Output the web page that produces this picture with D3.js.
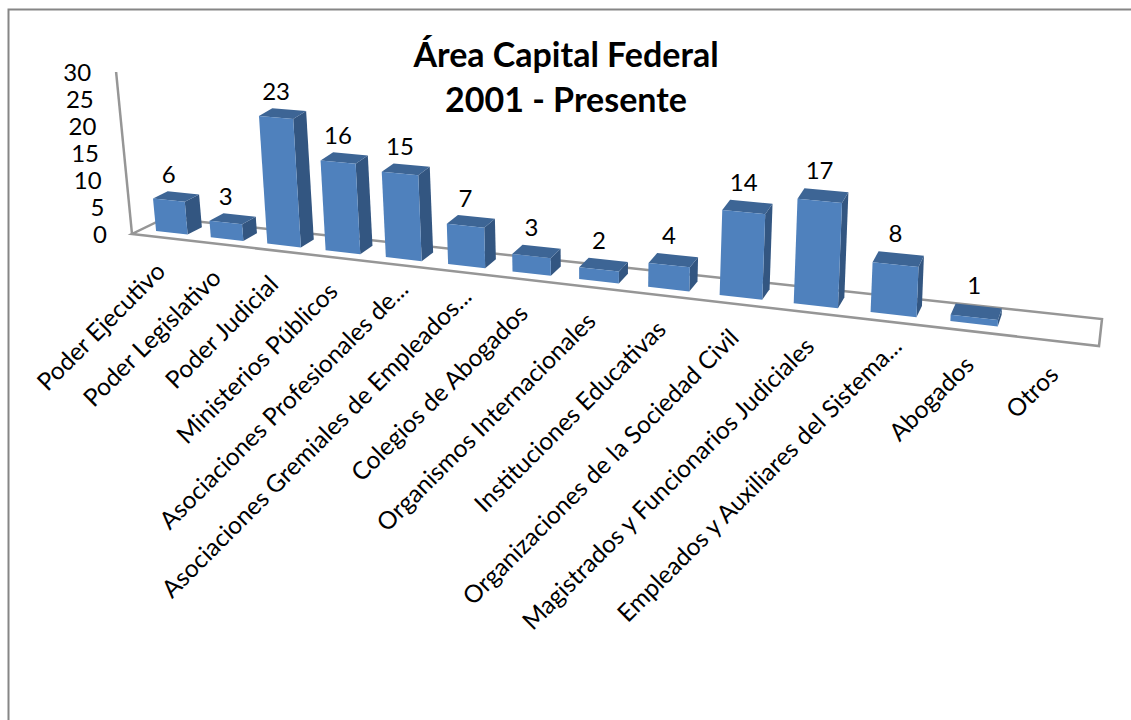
<!DOCTYPE html>
<html>
<head>
  <title>Área Capital Federal</title>
  <meta charset="utf-8">
  <script src="https://cdn.jsdelivr.net/npm/d3@7"></script>
  <style>
    html, body { margin: 0; padding: 0; background: #fff; overflow: hidden; }
    svg text { font-family: Lato, "Open Sans", sans-serif; fill: #000; }
  </style>
</head>
<body>
  <div id="chart"></div>
  <script type="text/javascript">
    var titleLines = ["Área Capital Federal", "2001 - Presente"];
    var categories = ["Poder Ejecutivo", "Poder Legislativo", "Poder Judicial", "Ministerios Públicos",
      "Asociaciones Profesionales de...", "Asociaciones Gremiales de Empleados...", "Colegios de Abogados",
      "Organismos Internacionales", "Instituciones Educativas", "Organizaciones de la Sociedad Civil",
      "Magistrados y Funcionarios Judiciales", "Empleados y Auxiliares del Sistema...", "Abogados", "Otros"];
    var values = [6, 3, 23, 16, 15, 7, 3, 2, 4, 14, 17, 8, 1, null];
    var yTicks = [0, 5, 10, 15, 20, 25, 30];

    var w = 1131, h = 720;

    var svg = d3.select("#chart").append("svg")
      .attr("width", w)
      .attr("height", h);

    // category slots along the floor, t runs 0..14
    var band = d3.scaleBand().domain(categories).range([0.06, categories.length])
      .paddingInner(0.42).paddingOuter(0.21);

    // perspective along the floor: later slots are wider
    var persp = 0.0155;
    function along(t) {
      return (t / (1 - persp * t)) / (categories.length / (1 - persp * categories.length));
    }

    var frontX = d3.scaleLinear().domain([0, 1]).range([132, 1099]);
    var frontY = d3.scaleLinear().domain([0, 1]).range([234, 346]);
    var depthX = d3.scaleLinear().domain([0, 0.85, 1]).range([33, 11, 3]);
    var depthY = d3.scaleLinear().domain([0, 1]).range([-16, -27]);
    var lean = d3.scaleLinear().domain([0, 0.14, 0.26, 0.61, 0.76]).range([-0.53, -0.35, -0.27, 0.2, 0.25]).clamp(true);
    var unit = d3.scaleLinear().domain([0, 1]).range([5.4, 6.5]);
    var labelGap = d3.scaleLinear().domain([0, 1]).range([23, 30]);

    // t along the floor, d into the depth, v up the value axis
    function project(t, d, v) {
      var s = along(t);
      return [
        frontX(s) + d * depthX(s) + v * lean(s),
        frontY(s) + d * depthY(s) - v * unit(s)
      ];
    }

    var line = d3.line();
    var axisColor = "#969696";

    // page frame, open on the right and at the bottom
    svg.append("path")
      .attr("d", line([[8.5, h], [8.5, 9.5], [w, 9.5]]))
      .attr("fill", "none")
      .attr("stroke", "#868686")
      .attr("stroke-width", 2);

    // floor and wall edge
    var n = categories.length;
    svg.append("path")
      .attr("d", line([project(0, 0, 0), project(n, 0, 0), project(n, 1, 0), project(0, 1, 0)]) + "Z")
      .attr("fill", "none")
      .attr("stroke", axisColor)
      .attr("stroke-width", 2.5);
    svg.append("path")
      .attr("d", line([project(0, 0, 0), project(0, 0, 30)]))
      .attr("fill", "none")
      .attr("stroke", axisColor)
      .attr("stroke-width", 2.5);

    // value axis labels
    svg.selectAll("text.ytick")
      .data(yTicks)
      .enter()
      .append("text")
      .attr("class", "ytick")
      .attr("x", function(d) { return project(0, 0, d)[0] - 25; })
      .attr("y", function(d) { return project(0, 0, d)[1] + 3; })
      .attr("text-anchor", "end")
      .attr("dominant-baseline", "middle")
      .attr("font-size", "24px")
      .text(function(d) { return d; });

    // bars, only the categories that have a value
    var d0 = 0.29, d1 = 0.74;
    var barData = categories.map(function(c, i) {
      return { name: c, value: values[i], t0: band(c), t1: band(c) + band.bandwidth() };
    }).filter(function(d) { return d.value !== null; });

    var bars = svg.selectAll("g.bar")
      .data(barData)
      .enter()
      .append("g")
      .attr("class", "bar");

    bars.append("path")
      .attr("fill", "#335681")
      .attr("d", function(d) {
        return line([project(d.t1, d0, 0), project(d.t1, d1, 0), project(d.t1, d1, d.value), project(d.t1, d0, d.value)]) + "Z";
      });
    bars.append("path")
      .attr("fill", "#3d6595")
      .attr("d", function(d) {
        return line([project(d.t0, d0, d.value), project(d.t1, d0, d.value), project(d.t1, d1, d.value), project(d.t0, d1, d.value)]) + "Z";
      });
    bars.append("path")
      .attr("fill", "#4f81bd")
      .attr("d", function(d) {
        return line([project(d.t0, d0, 0), project(d.t1, d0, 0), project(d.t1, d0, d.value), project(d.t0, d0, d.value)]) + "Z";
      });

    bars.append("text")
      .attr("x", function(d) { return project((d.t0 + d.t1) / 2, d0, d.value)[0]; })
      .attr("y", function(d) {
        var mid = (d.t0 + d.t1) / 2;
        return project(mid, d0, d.value)[1] - labelGap(along(mid));
      })
      .attr("text-anchor", "middle")
      .attr("dominant-baseline", "middle")
      .attr("font-size", "24px")
      .text(function(d) { return d.value; });

    // category labels, the cut-off ones sit a little further up their slope
    svg.selectAll("text.cat")
      .data(categories)
      .enter()
      .append("text")
      .attr("class", "cat")
      .attr("transform", function(d) {
        var p = project(band(d) + band.bandwidth() / 2, 0, 0);
        return "translate(" + p[0] + "," + (p[1] + 31) + ") rotate(-45)";
      })
      .attr("dx", function(d) { return d.slice(-3) === "..." ? 13 : 0; })
      .attr("text-anchor", "end")
      .attr("dominant-baseline", "middle")
      .attr("font-size", "24.5px")
      .text(function(d) { return d; });

    svg.selectAll("text.title")
      .data(titleLines)
      .enter()
      .append("text")
      .attr("class", "title")
      .attr("x", 566)
      .attr("y", function(d, i) { return 67 + i * 45; })
      .attr("text-anchor", "middle")
      .attr("font-size", "34px")
      .attr("font-weight", "bold")
      .text(function(d) { return d; });
  </script>
</body>
</html>
